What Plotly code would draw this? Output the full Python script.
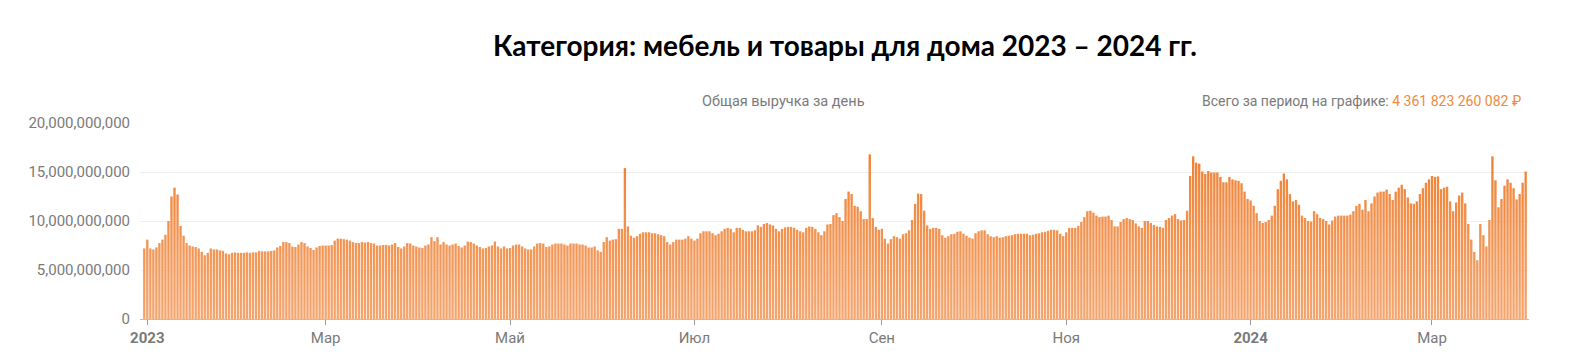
import base64
import pandas as pd
import plotly.graph_objects as go

# Daily revenue, billions of rubles, 2022-12-31 .. 2024-04-01
revenue_bn = [
    7.2, 8.1, 7.2, 7.1, 7.3, 7.75, 8.1, 8.6, 10.0, 12.5,
    13.4, 12.7, 9.5, 8.5, 7.75, 7.5, 7.4, 7.35, 7.2, 6.85,
    6.5, 6.75, 7.2, 7.1, 7.1, 7.0, 6.95, 6.7, 6.6, 6.75,
    6.8, 6.75, 6.75, 6.75, 6.8, 6.75, 6.8, 6.8, 6.95, 6.9,
    6.9, 6.9, 6.95, 7.0, 7.3, 7.45, 7.85, 7.85, 7.75, 7.4,
    7.35, 7.6, 7.85, 7.75, 7.4, 7.25, 7.05, 7.3, 7.45, 7.5,
    7.5, 7.5, 7.55, 8.0,
    8.2, 8.2, 8.15, 8.1, 8.0, 7.85, 7.75, 7.75, 7.85, 7.8,
    7.85, 7.75, 7.7, 7.5, 7.5, 7.55, 7.55, 7.5, 7.6, 7.75,
    7.35, 7.2, 7.4, 7.75, 7.7, 7.5, 7.4, 7.3, 7.25, 7.5,
    7.6, 8.35, 7.95, 8.35, 7.6, 7.85, 7.6, 7.5, 7.6, 7.7,
    7.45, 7.3, 7.5, 7.9, 7.85, 7.7, 7.5, 7.35, 7.2, 7.25,
    7.4, 7.5, 7.9, 7.4, 7.2, 7.4, 7.2, 7.25, 7.5, 7.6,
    7.6, 7.4, 7.2, 7.1, 7.1, 7.4, 7.7,
    7.75, 7.7, 7.35, 7.4, 7.6, 7.7, 7.7, 7.7, 7.6, 7.5,
    7.7, 7.7, 7.7, 7.6, 7.6, 7.5, 7.3, 7.3, 7.4, 7.0,
    6.85, 7.85, 8.35, 8.0, 8.1, 8.15, 9.2, 9.2, 15.4, 9.45,
    8.5, 8.3, 8.45, 8.7, 8.85, 8.85, 8.85, 8.75, 8.75, 8.65,
    8.55, 8.45, 7.85, 7.6, 7.85, 8.1, 8.1, 8.1, 8.2, 8.45,
    8.2, 8.0, 8.2, 8.75, 8.95, 8.95, 8.95, 8.75, 8.55, 8.7,
    8.95, 9.2, 9.3, 9.2, 8.85,
    9.3, 9.3, 9.1, 8.95, 8.95, 8.95, 9.05, 9.55, 9.4, 9.7,
    9.8, 9.65, 9.55, 9.2, 8.95, 9.2, 9.35, 9.4, 9.4, 9.3,
    9.1, 8.95, 8.85, 9.3, 9.45, 9.4, 9.2, 8.85, 8.55, 8.95,
    9.65, 9.7, 10.6, 10.8, 10.4, 10.0, 12.25, 13.0, 12.75, 11.55,
    11.45, 11.0, 10.2, 10.2, 16.8, 10.3, 9.4, 9.1, 9.2, 8.2,
    7.7, 8.15, 8.45, 8.35, 8.2, 8.65, 8.75, 9.05, 10.1, 11.75,
    12.8, 12.75, 11.05, 9.55, 9.2,
    9.3, 9.3, 9.2, 8.55, 8.3, 8.45, 8.65, 8.7, 8.9, 8.95,
    8.7, 8.5, 8.3, 8.2, 8.75, 8.95, 9.05, 9.05, 8.65, 8.45,
    8.35, 8.45, 8.3, 8.35, 8.45, 8.5, 8.55, 8.65, 8.7, 8.7,
    8.7, 8.7, 8.55, 8.6, 8.7, 8.75, 8.85, 8.9, 9.0, 9.1,
    9.1, 9.05, 8.7, 8.45, 8.85, 9.3, 9.3, 9.3, 9.5, 9.9,
    10.4, 11.0, 11.05, 10.85, 10.55, 10.4, 10.45, 10.45, 10.55, 10.1,
    9.45, 9.45, 9.9, 10.2, 10.3, 10.2,
    10.1, 9.75, 9.45, 9.3, 10.0, 10.0, 9.8, 9.6, 9.45, 9.4,
    9.3, 10.1, 10.3, 10.55, 10.7, 10.2, 10.05, 10.1, 11.05, 14.6,
    16.6, 15.95, 15.85, 15.05, 14.8, 15.1, 14.95, 14.95, 14.95, 14.5,
    13.95, 13.95, 14.5, 14.25, 14.15, 14.1, 13.85, 13.0, 12.25, 12.1,
    11.55, 10.8, 10.0, 9.8, 9.9, 10.1, 10.55, 11.55, 13.25, 14.1,
    14.85, 14.25, 12.75, 12.0, 12.15, 11.65, 10.55, 10.3, 10.0, 9.95,
    11.0, 10.7, 10.3, 10.2, 10.0,
    9.65, 10.05, 10.45, 10.55, 10.55, 10.55, 10.55, 10.65, 11.0, 11.55,
    11.75, 11.15, 12.15, 11.0, 11.8, 12.5, 12.9, 13.0, 13.0, 13.2,
    12.75, 12.15, 13.0, 13.4, 13.7, 13.25, 12.4, 11.8, 11.75, 12.0,
    12.75, 13.35, 13.9, 14.25, 14.6, 14.5, 14.55, 13.25, 13.4, 13.5,
    12.0, 11.0, 11.9, 12.6, 12.9, 11.8, 9.7, 8.1, 6.85, 6.0,
    9.7, 8.55, 7.4, 10.1, 16.6, 14.15, 11.4, 12.25, 13.6, 14.25,
    13.9, 13.35, 12.2, 12.75, 13.9, 15.05,
]

start_date = "2022-12-31"
dates = pd.date_range(start_date, periods=len(revenue_bn), freq="D")
revenue = [v * 1e9 for v in revenue_bn]

tick_dates = ["2023-01-01", "2023-03-01", "2023-05-01", "2023-07-01",
              "2023-09-01", "2023-11-01", "2024-01-01", "2024-03-01"]
tick_labels = ["<b>2023</b>", "Мар", "Май", "Июл", "Сен", "Ноя", "<b>2024</b>", "Мар"]
y_ticks = [0, 5e9, 10e9, 15e9, 20e9]

title_text = "Категория: мебель и товары для дома 2023 – 2024 гг."
subtitle_text = "Общая выручка за день"
total_label = "Всего за период на графике: "
total_value = "4 361 823 260 082 ₽"

BAR = "#EF7A28"
ORANGE_TXT = "#F08A3C"
GRAY = "#7a7a7a"

fig = go.Figure()
fig.add_trace(go.Bar(
    x=dates, y=revenue, marker=dict(color=BAR, line=dict(width=0)),
    hoverinfo="x+y",
))

# soft vertical lightening overlay (bars look lighter toward the base)
svg = ("<svg xmlns='http://www.w3.org/2000/svg' width='10' height='100' preserveAspectRatio='none'>"
       "<defs><linearGradient id='g' x1='0' y1='0' x2='0' y2='1'>"
       "<stop offset='0' stop-color='white' stop-opacity='0'/>"
       "<stop offset='1' stop-color='white' stop-opacity='0.33'/>"
       "</linearGradient></defs><rect width='10' height='100' fill='url(#g)'/></svg>")
src = "data:image/svg+xml;base64," + base64.b64encode(svg.encode()).decode()

fig.update_layout(
    width=1575, height=359,
    margin=dict(l=140, r=46, t=123, b=38),
    paper_bgcolor="white", plot_bgcolor="white",
    bargap=0.22, showlegend=False,
    font=dict(family="Roboto, sans-serif", color=GRAY, size=15),
    title=dict(text=f"<b>{title_text}</b>", x=845 / 1575, xanchor="center",
               y=1 - 46 / 359, yanchor="middle", xref="container", yref="container",
               font=dict(family="Lato, sans-serif", size=28, color="#000000")),
    xaxis=dict(
        type="date", range=["2022-12-29 14:00", "2024-04-02 02:24"],
        tickmode="array", tickvals=tick_dates, ticktext=tick_labels,
        showgrid=False, showline=True, linecolor="#bdbdbd", linewidth=1,
        ticks="outside", ticklen=5, tickcolor="#9a9a9a", tickwidth=1,
        tickfont=dict(size=15, color=GRAY), zeroline=False,
    ),
    yaxis=dict(
        range=[0, 20e9], tickmode="array", tickvals=y_ticks,
        tickformat=",d", showgrid=True, gridcolor="#ececec", gridwidth=1,
        zeroline=False, showline=False, ticks="", ticklabelstandoff=9,
        tickfont=dict(size=15, color=GRAY),
    ),
    images=[dict(source=src, xref="paper", yref="paper", x=0, y=1, sizex=1, sizey=1,
                 xanchor="left", yanchor="top", sizing="stretch", layer="above", opacity=1)],
    annotations=[
        dict(text=subtitle_text, xref="paper", yref="paper",
             x=(783 - 140) / 1389, y=(321 - 101) / 198, xanchor="center", yanchor="middle",
             showarrow=False, font=dict(size=14.5, color=GRAY)),
        dict(text=f"{total_label}<span style='color:{ORANGE_TXT}'>{total_value}</span>",
             xref="paper", yref="paper", x=(1523 - 140) / 1389, y=(321 - 101) / 198,
             xanchor="right", yanchor="middle", showarrow=False,
             font=dict(size=14, color=GRAY)),
    ],
)

fig.write_html("out.html")
